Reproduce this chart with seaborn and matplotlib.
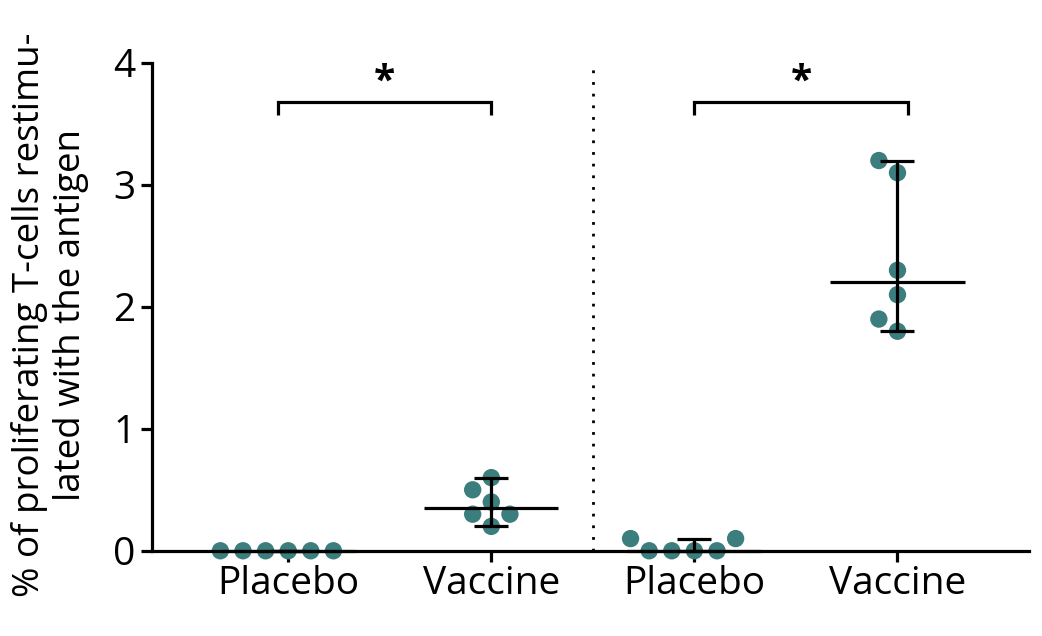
import numpy as np
import pandas as pd
import matplotlib.pyplot as plt
import seaborn as sns

# Data
group_labels = ["Placebo", "Vaccine", "Placebo", "Vaccine"]
group_keys = ["exp1_placebo", "exp1_vaccine", "exp2_placebo", "exp2_vaccine"]
exp1_placebo = [0.0, 0.0, 0.0, 0.0, 0.0, 0.0]
exp1_vaccine = [0.3, 0.5, 0.6, 0.3, 0.4, 0.2]
exp2_placebo = [0.1, 0.0, 0.0, 0.1, 0.0, 0.0]
exp2_vaccine = [3.2, 3.1, 2.3, 2.1, 1.9, 1.8]
significance = ["*", "*"]
y_ticks = [0, 1, 2, 3, 4]
y_label_lines = ["% of proliferating T-cells restimu-", "lated with the antigen"]

point_color = "#3b7e7d"
font = "Open Sans"

values = [exp1_placebo, exp1_vaccine, exp2_placebo, exp2_vaccine]
df = pd.DataFrame({
    "group": np.repeat(group_keys, [len(v) for v in values]),
    "value": np.concatenate(values),
})

sns.set_style("white")
plt.rcParams["font.family"] = [font, "DejaVu Sans"]
plt.rcParams["text.color"] = "black"

fig = plt.figure(figsize=(10.42, 6.36), dpi=100)
ax = fig.add_axes([0.146, 0.134, 0.842, 0.767])

# swarm layout; transparent edge widens the spacing between dots
sns.swarmplot(data=df, x="group", y="value", order=group_keys, color=point_color,
              size=12.5, linewidth=3.0, edgecolor="none", ax=ax)
for c in ax.collections:
    c.set_clip_on(False)
    c.set_zorder(2)

# median with range
lw = 2.3
for i, v in enumerate(values):
    med = np.median(v)
    lo, hi = np.min(v), np.max(v)
    ax.errorbar(i, med, yerr=[[med - lo], [hi - med]], fmt="none", ecolor="black",
                elinewidth=lw, capsize=12, capthick=lw, zorder=4, clip_on=False)
    ax.hlines(med, i - 0.33, i + 0.33, color="black", lw=lw, zorder=4, clip_on=False)

# separator between the two experiments
ax.axvline(1.5, color="black", lw=2, linestyle=(0, (1, 3.2)), zorder=1)

# significance brackets
brackets = [(-0.05, 1.0), (2.0, 3.05)]
for k, (a, b) in enumerate(brackets):
    ax.plot([a, a, b, b], [3.57, 3.68, 3.68, 3.57], color="black",
            lw=lw, solid_capstyle="butt", solid_joinstyle="miter")
    ax.text((a + b) / 2, 3.76, significance[k], ha="center", va="baseline",
            fontsize=28, fontweight="bold", color="black")

ax.set_ylim(0, 4)
ax.set_xlim(-0.67, 3.65)
ax.set_yticks(y_ticks)
ax.set_xticks(range(len(group_labels)))
ax.set_xticklabels(group_labels)
ax.set_xlabel("")
ax.set_ylabel("")
ax.tick_params(axis="both", direction="out", length=8, width=lw, labelsize=28,
               colors="black", pad=4)
ax.tick_params(axis="y", left=True)
ax.tick_params(axis="x", bottom=True, pad=2)
sns.despine(ax=ax)
for s in ["left", "bottom"]:
    ax.spines[s].set_linewidth(lw)
    ax.spines[s].set_color("black")
    ax.spines[s].set_zorder(3)

# two-line y label, each line placed on its own baseline
for x_frac, line in zip([0.0374, 0.0768], y_label_lines):
    fig.text(x_frac, 0.505, line, rotation=90, rotation_mode="anchor",
             ha="center", va="baseline", fontsize=26.5, color="black")

fig.savefig("out.png", dpi=100)
